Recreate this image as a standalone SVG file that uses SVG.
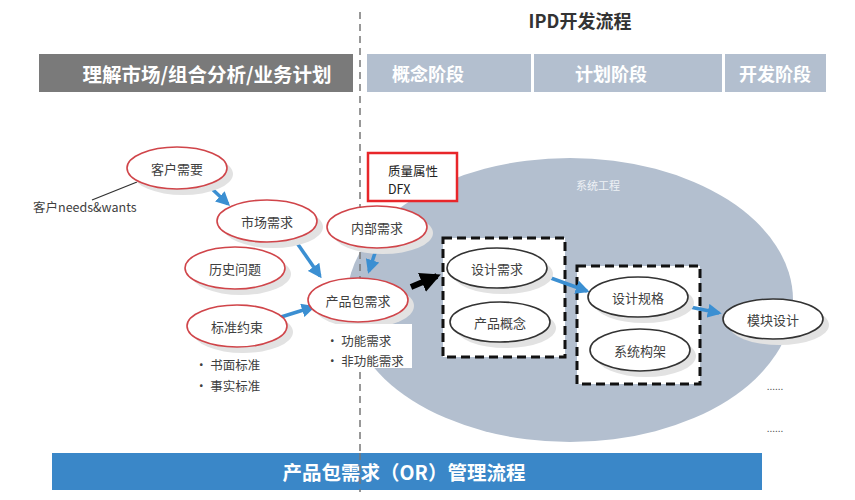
<svg xmlns="http://www.w3.org/2000/svg" width="855" height="500" viewBox="0 0 855 500">
<style>
text{font-family:"Noto Sans CJK SC","Liberation Sans",sans-serif;}
.hd{font-size:18px;font-weight:bold;fill:#fff;text-anchor:middle;dominant-baseline:central;}
.lbl{font-size:13px;fill:#404040;text-anchor:middle;dominant-baseline:central;}
.sm{font-size:12.5px;fill:#404040;}
.sh{fill:#e2e2e2;}
.er{fill:#fff;stroke:#d0454a;stroke-width:1.6;}
.eb{fill:#fff;stroke:#333;stroke-width:1.6;}
.blue{stroke:#3b8fd2;stroke-width:3.5;fill:none;marker-end:url(#ab);}
.dbox{fill:#fff;stroke:#111;stroke-width:3;stroke-dasharray:9 5;}
</style>
<defs>
<marker id="ab" viewBox="0 0 10 10" refX="8" refY="5" markerWidth="4" markerHeight="4" orient="auto" markerUnits="strokeWidth">
<path d="M0,0 L10,5 L0,10 z" fill="#3b8fd2"/>
</marker>
<marker id="ak" viewBox="0 0 10 10" refX="8" refY="5" markerWidth="3.4" markerHeight="3.4" orient="auto" markerUnits="strokeWidth">
<path d="M0,0 L10,5 L0,10 z" fill="#000"/>
</marker>
</defs>

<text x="580" y="20" style="font-size:18px;font-weight:bold;fill:#333;text-anchor:middle;dominant-baseline:central">IPD开发流程</text>

<g id="header">
<rect x="39" y="54" width="314" height="38" fill="#7a7a7a"/>
<text class="hd" x="207" y="73" style="font-size:19.5px">理解市场/组合分析/业务计划</text>
<rect x="367" y="54" width="164" height="38" fill="#b3bfcf"/>
<text class="hd" x="428" y="73">概念阶段</text>
<rect x="534" y="54" width="188" height="38" fill="#b3bfcf"/>
<text class="hd" x="611" y="73">计划阶段</text>
<rect x="725" y="54" width="101" height="38" fill="#b3bfcf"/>
<text class="hd" x="775" y="73">开发阶段</text>
</g>

<g id="system-engineering">
<ellipse cx="570" cy="300" rx="223" ry="142" fill="#b3bfcf"/>
<text x="598" y="185" style="font-size:11px;fill:#eef1f5;text-anchor:middle;dominant-baseline:central">系统工程</text>
</g>

<line x1="360" y1="12" x2="360" y2="492" stroke="#777" stroke-width="1.5" stroke-dasharray="7 5"/>

<g id="dfx">
<rect x="368" y="153" width="89" height="48" fill="#fff" stroke="#e8262a" stroke-width="2.5"/>
<text class="sm" x="388" y="170" style="dominant-baseline:central;fill:#222">质量属性</text>
<text class="sm" x="388" y="188" style="dominant-baseline:central;fill:#222">DFX</text>
</g>

<g id="box1"><rect class="dbox" x="443" y="238" width="122" height="119"/></g>
<g id="box2"><rect class="dbox" x="577" y="266" width="123" height="118"/></g>

<g id="connectors">
<line x1="137" y1="182" x2="92" y2="200" stroke="#333" stroke-width="1.2"/>
<line class="blue" x1="210" y1="187" x2="228" y2="204"/>
<line class="blue" x1="297" y1="243" x2="320" y2="276"/>
<line class="blue" x1="281" y1="317" x2="313" y2="307"/>
<line class="blue" x1="376" y1="250" x2="369" y2="271"/>
<line class="blue" x1="548" y1="277" x2="587" y2="291"/>
<line class="blue" x1="690" y1="307" x2="719" y2="313"/>
<line x1="411" y1="287" x2="437" y2="276" stroke="#000" stroke-width="6" marker-end="url(#ak)"/>
</g>

<g id="n-kehu">
<ellipse class="sh" cx="183" cy="174" rx="50" ry="21"/>
<ellipse class="er" cx="177" cy="168" rx="50" ry="21"/>
<text class="lbl" x="177" y="168">客户需要</text>
</g>
<text x="33" y="206" style="font-size:12.5px;fill:#404040;dominant-baseline:central">客户needs&amp;wants</text>

<g id="n-shichang">
<ellipse class="sh" cx="273" cy="227" rx="50" ry="21"/>
<ellipse class="er" cx="267" cy="221" rx="50" ry="21"/>
<text class="lbl" x="267" y="221">市场需求</text>
</g>

<g id="n-lishi">
<ellipse class="sh" cx="241" cy="274" rx="50" ry="21"/>
<ellipse class="er" cx="235" cy="268" rx="50" ry="21"/>
<text class="lbl" x="235" y="268">历史问题</text>
</g>

<g id="n-biaozhun">
<ellipse class="sh" cx="243" cy="332" rx="50" ry="21"/>
<ellipse class="er" cx="237" cy="326" rx="50" ry="21"/>
<text class="lbl" x="237" y="326">标准约束</text>
<text class="sm" x="195" y="364" style="dominant-baseline:central">• 书面标准</text>
<text class="sm" x="195" y="385" style="dominant-baseline:central">• 事实标准</text>
</g>

<g id="n-neibu">
<ellipse class="sh" cx="383" cy="233" rx="50" ry="21"/>
<ellipse class="er" cx="377" cy="227" rx="50" ry="21"/>
<text class="lbl" x="377" y="227">内部需求</text>
</g>

<g id="n-chanpinbao">
<ellipse class="sh" cx="364" cy="306" rx="50" ry="22"/>
<ellipse class="er" cx="358" cy="300" rx="50" ry="22"/>
<text class="lbl" x="358" y="300">产品包需求</text>
<rect x="320" y="324" width="92" height="44" fill="#fff"/>
<text class="sm" x="326" y="340" style="dominant-baseline:central">• 功能需求</text>
<text class="sm" x="326" y="360" style="dominant-baseline:central">• 非功能需求</text>
</g>

<g id="n-sheji">
<ellipse class="sh" cx="503" cy="274" rx="50" ry="20"/>
<ellipse class="eb" cx="497" cy="268" rx="50" ry="20"/>
<text class="lbl" x="497" y="268">设计需求</text>
</g>

<g id="n-gainian">
<ellipse class="sh" cx="506" cy="328" rx="50" ry="20"/>
<ellipse class="eb" cx="500" cy="322" rx="50" ry="20"/>
<text class="lbl" x="500" y="322">产品概念</text>
</g>

<g id="n-guige">
<ellipse class="sh" cx="644" cy="303" rx="50" ry="20"/>
<ellipse class="eb" cx="638" cy="297" rx="50" ry="20"/>
<text class="lbl" x="638" y="297">设计规格</text>
</g>

<g id="n-goujia">
<ellipse class="sh" cx="646" cy="356" rx="50" ry="21"/>
<ellipse class="eb" cx="640" cy="350" rx="50" ry="21"/>
<text class="lbl" x="640" y="350">系统构架</text>
</g>

<g id="n-mokuai">
<ellipse class="sh" cx="779" cy="325" rx="50" ry="20"/>
<ellipse class="eb" cx="773" cy="319" rx="50" ry="20"/>
<text class="lbl" x="773" y="319">模块设计</text>
</g>

<text x="775" y="390" style="font-size:10px;fill:#555;text-anchor:middle">......</text>
<text x="775" y="432" style="font-size:10px;fill:#555;text-anchor:middle">......</text>

<g id="footer">
<rect x="52" y="453" width="710" height="37" fill="#3a87c8"/>
<text class="hd" x="404" y="471" style="font-size:19.5px">产品包需求（OR）管理流程</text>
</g>
<line x1="360" y1="453" x2="360" y2="492" stroke="#777" stroke-width="1.5" stroke-dasharray="7 5"/>
</svg>
